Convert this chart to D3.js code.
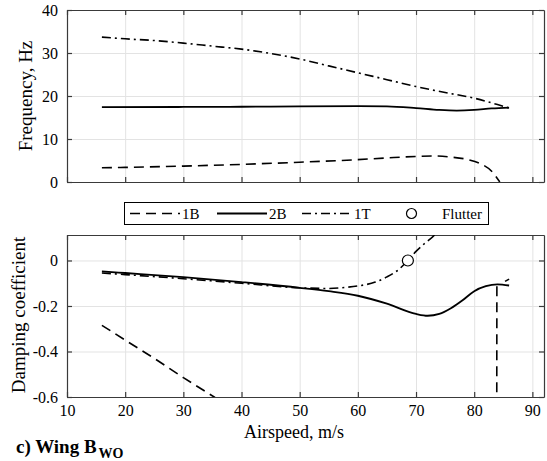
<!DOCTYPE html>
<html>
<head>
<meta charset="utf-8">
<script src="https://cdn.jsdelivr.net/npm/d3@7"></script>
<style>
  body { margin: 0; background: #fff; }
  text { font-family: "Liberation Serif", "Times New Roman", serif; fill: #000; }
</style>
</head>
<body>
<div class="viz"></div>
<script>
// airspeed ticks
const xTicks = [10, 20, 30, 40, 50, 60, 70, 80, 90];
const freqTicks = [0, 10, 20, 30, 40];
const dampTicks = [-0.6, -0.4, -0.2, 0];

// frequency, Hz
const freq1B = [[16, 3.3], [20, 3.4], [30, 3.7], [40, 4.1], [50, 4.6], [60, 5.2], [65, 5.6], [70, 5.95], [73, 6.05], [76, 5.8], [79, 5.2], [81, 4.3], [83, 2.5], [84.4, 0]];
const freq2B = [[16, 17.4], [30, 17.45], [40, 17.5], [50, 17.6], [60, 17.65], [65, 17.6], [70, 17.2], [74, 16.75], [77, 16.6], [80, 16.75], [83, 17.1], [86, 17.3]];
const freq1T = [[16, 33.7], [20, 33.3], [25, 32.9], [30, 32.3], [35, 31.6], [40, 30.9], [45, 29.9], [50, 28.6], [55, 27.0], [60, 25.4], [65, 23.8], [70, 22.2], [75, 20.8], [80, 19.5], [84, 18.0], [86, 17.2]];

// damping coefficient
const damp1B = [[16, -0.285], [20, -0.35], [25, -0.43], [30, -0.515], [35.3, -0.6], [40, -0.68], [60, -1.0], [83.85, -1.4], [83.9, -0.102]];
const damp2B = [[16, -0.048], [20, -0.055], [30, -0.073], [40, -0.095], [50, -0.12], [55, -0.135], [60, -0.155], [65, -0.19], [70, -0.235], [72, -0.243], [74, -0.235], [76, -0.21], [78, -0.175], [80, -0.135], [82, -0.113], [84, -0.105], [86, -0.11]];
const damp1T = [[16, -0.055], [20, -0.062], [30, -0.08], [40, -0.1], [50, -0.12], [55, -0.123], [58, -0.118], [60, -0.112], [63, -0.095], [65, -0.072], [67, -0.04], [68.6, 0], [70, 0.04], [71.5, 0.075], [73.1, 0.11], [74, 0.14]];
const damp1Ttail = [[85.3, -0.092], [86, -0.082]];
const flutter = [[68.6, 0]];

const modes = ['1B', '2B', '1T'];
const dashes = { '1B': '10,6', '2B': null, '1T': '9,4,2,4' };

const width = 547, height = 461;
const left = 67, right = 544;
const serif = '"Liberation Serif", "Times New Roman", serif';

const svg = d3.select('.viz').append('svg')
  .attr('width', width)
  .attr('height', height);

svg.append('rect').attr('width', width).attr('height', height).attr('fill', '#fff');

const x = d3.scaleLinear().domain([10, 92]).range([left, right]);
const yF = d3.scaleLinear().domain([0, 40]).range([182, 10]);
const yD = d3.scaleLinear().domain([-0.6, 0.112]).range([397, 235]);

function panel(y, yTicks, showX, id, yFmt) {
  const [y0, y1] = y.range();
  const g = svg.append('g');

  // clip
  svg.append('clipPath').attr('id', id)
    .append('rect').attr('x', left).attr('y', y1).attr('width', right - left).attr('height', y0 - y1);

  // grid
  g.append('g').attr('transform', 'translate(0,' + y0 + ')')
    .call(d3.axisBottom(x).tickValues(xTicks).tickSize(-(y0 - y1)).tickFormat(''))
    .call(a => a.select('.domain').remove())
    .selectAll('line').attr('stroke', '#e3e3e3');
  g.append('g').attr('transform', 'translate(' + left + ',0)')
    .call(d3.axisLeft(y).tickValues(yTicks).tickSize(-(right - left)).tickFormat(''))
    .call(a => a.select('.domain').remove())
    .selectAll('line').attr('stroke', '#e3e3e3');

  const axisColor = '#3a3a3a';
  const bottom = g.append('g').attr('transform', 'translate(0,' + y0 + ')')
    .call(d3.axisBottom(x).tickValues(xTicks).tickSize(-5).tickSizeOuter(0).tickPadding(7.5)
      .tickFormat(showX ? d3.format('d') : ''));
  const top = g.append('g').attr('transform', 'translate(0,' + y1 + ')')
    .call(d3.axisTop(x).tickValues(xTicks).tickSize(-5).tickSizeOuter(0).tickFormat(''));
  const lft = g.append('g').attr('transform', 'translate(' + left + ',0)')
    .call(d3.axisLeft(y).tickValues(yTicks).tickSize(-5).tickSizeOuter(0).tickPadding(9).tickFormat(yFmt));
  const rgt = g.append('g').attr('transform', 'translate(' + right + ',0)')
    .call(d3.axisRight(y).tickValues(yTicks).tickSize(-5).tickSizeOuter(0).tickFormat(''));
  [bottom, top, lft, rgt].forEach(a => {
    a.attr('font-family', serif).attr('font-size', 16);
    a.selectAll('path, line').attr('stroke', axisColor).attr('stroke-width', 1.2);
    a.selectAll('text').style('font-family', serif).style('font-size', '16px').attr('fill', '#000');
  });
  return g;
}

panel(yF, freqTicks, false, 'clipF', d3.format('d'));
panel(yD, dampTicks, true, 'clipD', d => d === 0 ? '0' : d.toFixed(1));

function drawLine(data, y, mode, clip, curve) {
  const line = d3.line().x(d => x(d[0])).y(d => y(d[1])).curve(curve || d3.curveMonotoneX);
  svg.append('path')
    .datum(data)
    .attr('clip-path', 'url(#' + clip + ')')
    .attr('fill', 'none')
    .attr('stroke', '#000')
    .attr('stroke-width', mode === '2B' ? 1.8 : 1.6)
    .attr('stroke-dasharray', dashes[mode])
    .attr('d', line);
}

drawLine(freq1B, yF, '1B', 'clipF');
drawLine(freq2B, yF, '2B', 'clipF');
drawLine(freq1T, yF, '1T', 'clipF');

drawLine(damp1B, yD, '1B', 'clipD', d3.curveLinear);
drawLine(damp2B, yD, '2B', 'clipD');
drawLine(damp1T, yD, '1T', 'clipD');
drawLine(damp1Ttail, yD, '1T', 'clipD', d3.curveLinear);

svg.selectAll('.flutter').data(flutter).enter().append('circle')
  .attr('class', 'flutter')
  .attr('cx', d => x(d[0])).attr('cy', d => yD(d[1]))
  .attr('r', 5.5)
  .attr('fill', '#fff').attr('stroke', '#000').attr('stroke-width', 1.2);

// axis labels
svg.append('text')
  .attr('transform', 'translate(32,96) rotate(-90)')
  .attr('text-anchor', 'middle')
  .style('font-size', '19px')
  .text('Frequency, Hz');
svg.append('text')
  .attr('transform', 'translate(24.5,315) rotate(-90)')
  .attr('text-anchor', 'middle')
  .style('font-size', '19px')
  .text('Damping coefficient');
svg.append('text')
  .attr('x', 294).attr('y', 438)
  .attr('text-anchor', 'middle')
  .style('font-size', '18px')
  .text('Airspeed, m/s');

// title
const title = svg.append('text')
  .attr('x', 16).attr('y', 453)
  .style('font-size', '19px')
  .style('font-weight', 'bold');
title.append('tspan').text('c) Wing  B');
title.append('tspan').attr('dy', 5).attr('dx', 2).style('font-size', '14px').text('WO');

// legend
const legend = svg.append('g');
legend.append('rect')
  .attr('x', 124.5).attr('y', 202.5).attr('width', 364).attr('height', 22)
  .attr('fill', '#fff').attr('stroke', '#000').attr('stroke-width', 1);
const legX = [130, 217, 302];
modes.forEach((m, i) => {
  legend.append('line')
    .attr('x1', legX[i]).attr('x2', legX[i] + 50)
    .attr('y1', 213.5).attr('y2', 213.5)
    .attr('stroke', '#000').attr('stroke-width', m === '2B' ? 1.8 : 1.6)
    .attr('stroke-dasharray', dashes[m]);
  legend.append('text')
    .attr('x', legX[i] + 52).attr('y', 219)
    .style('font-size', '15px')
    .text(m);
});
legend.append('circle')
  .attr('cx', 411.5).attr('cy', 213.5).attr('r', 5)
  .attr('fill', '#fff').attr('stroke', '#000').attr('stroke-width', 1.2);
legend.append('text')
  .attr('x', 442).attr('y', 219)
  .style('font-size', '15px')
  .text('Flutter');
</script>
</body>
</html>
